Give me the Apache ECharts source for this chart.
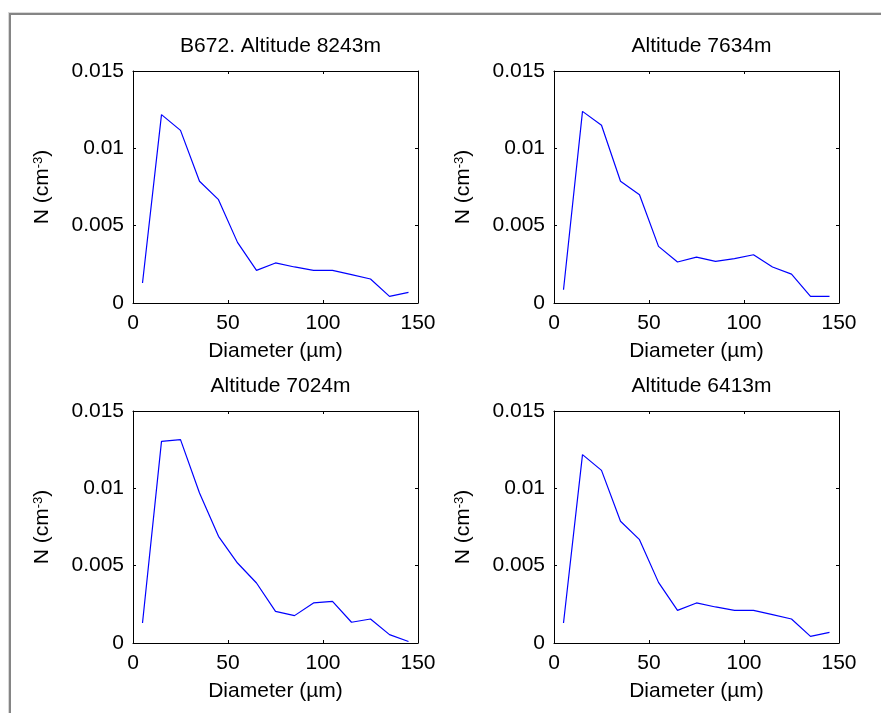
<!DOCTYPE html>
<html>
<head>
<meta charset="utf-8">
<script src="https://cdn.jsdelivr.net/npm/echarts@6/dist/echarts.min.js"></script>
<style>html,body{margin:0;padding:0;background:#fff}#c{width:881px;height:713px}</style>
</head>
<body>
<div id="c"></div>
<script>
// ---- data ----
const diameters = [5, 15, 25, 35, 45, 55, 65, 75, 85, 95, 105, 115, 125, 135, 145];
const titles = ['B672. Altitude 8243m', 'Altitude 7634m', 'Altitude 7024m', 'Altitude 6413m'];
const n8243 = [0.00129, 0.01218, 0.01116, 0.00787, 0.00668, 0.00392, 0.00211, 0.00259, 0.00233, 0.00211, 0.00211, 0.00183, 0.00155, 0.00043, 0.00069];
const n7634 = [0.00086, 0.01239, 0.01149, 0.00787, 0.00700, 0.00366, 0.00265, 0.00297, 0.00269, 0.00287, 0.00312, 0.00233, 0.00187, 0.00043, 0.00043];
const n7024 = [0.00129, 0.01304, 0.01315, 0.00970, 0.00690, 0.00517, 0.00388, 0.00205, 0.00177, 0.00259, 0.00269, 0.00134, 0.00155, 0.00054, 0.00010];
const n6413 = [0.00129, 0.01218, 0.01116, 0.00787, 0.00668, 0.00392, 0.00211, 0.00259, 0.00233, 0.00211, 0.00211, 0.00183, 0.00155, 0.00043, 0.00069];
const xTickLabels = ['0', '50', '100', '150'];
const yTickLabels = ['0', '0.005', '0.01', '0.015'];
const seriesData = [n8243, n7634, n7024, n6413];

// ---- layout ----
const FONT = 'Liberation Sans, Arial, sans-serif';
const FS = 21;
const grids = [
  {left: 133, top: 71, width: 285, height: 232},
  {left: 554, top: 71, width: 285, height: 232},
  {left: 133, top: 411, width: 285, height: 232},
  {left: 554, top: 411, width: 285, height: 232}
];
const chart = echarts.init(document.getElementById('c'), null, {renderer: 'canvas'});
const xAxes = [], yAxes = [], series = [], titleOpts = [];
grids.forEach((g, i) => {
  const common = {min: 0, max: 150, interval: 50, splitLine: {show: false}};
  xAxes.push(Object.assign({}, common, {
    type: 'value', gridIndex: i, position: 'bottom',
    axisLine: {show: true, onZero: false, lineStyle: {color: '#000', width: 1}},
    axisTick: {show: true, inside: true, length: 3, lineStyle: {color: '#000'}},
    axisLabel: {show: true, color: '#000', fontFamily: FONT, fontSize: FS, margin: 10,
      formatter: v => xTickLabels[Math.round(v / 50)]},
    name: 'Diameter (\u00b5m)', nameLocation: 'middle', nameGap: 38,
    nameTextStyle: {color: '#000', fontFamily: FONT, fontSize: FS}
  }));
  xAxes.push(Object.assign({}, common, {
    type: 'value', gridIndex: i, position: 'top',
    axisLine: {show: true, onZero: false, lineStyle: {color: '#000', width: 1}},
    axisTick: {show: true, inside: true, length: 3, lineStyle: {color: '#000'}},
    axisLabel: {show: false}
  }));
  const ycommon = {min: 0, max: 0.015, interval: 0.005, splitLine: {show: false}};
  yAxes.push(Object.assign({}, ycommon, {
    type: 'value', gridIndex: i, position: 'left',
    axisLine: {show: true, onZero: false, lineStyle: {color: '#000', width: 1}},
    axisTick: {show: true, inside: true, length: 3, lineStyle: {color: '#000'}},
    axisLabel: {show: true, color: '#000', fontFamily: FONT, fontSize: FS, margin: 9,
      formatter: v => yTickLabels[Math.round(v / 0.005)]},
    name: '{a|N (cm}{s|-3}{a|)}', nameLocation: 'middle', nameGap: 80,
    nameTextStyle: {color: '#000', fontFamily: FONT, fontSize: FS,
      rich: {a: {fontFamily: FONT, fontSize: FS, color: '#000'},
             s: {fontFamily: FONT, fontSize: 13, color: '#000', verticalAlign: 'top', padding: [0, 0, 8, 0]}}}
  }));
  yAxes.push(Object.assign({}, ycommon, {
    type: 'value', gridIndex: i, position: 'right',
    axisLine: {show: true, onZero: false, lineStyle: {color: '#000', width: 1}},
    axisTick: {show: true, inside: true, length: 3, lineStyle: {color: '#000'}},
    axisLabel: {show: false}
  }));
  series.push({
    type: 'line', xAxisIndex: i * 2, yAxisIndex: i * 2,
    data: diameters.map((d, k) => [d, seriesData[i][k]]),
    showSymbol: false, symbol: 'none', animation: false,
    lineStyle: {color: '#0000ff', width: 1.2}
  });
  titleOpts.push({
    text: titles[i], left: g.left + g.width / 2, top: g.top - 40, textAlign: 'center',
    textStyle: {color: '#000', fontFamily: FONT, fontSize: FS, fontWeight: 'normal'}
  });
});

chart.setOption({
  backgroundColor: '#fff',
  animation: false,
  title: titleOpts,
  grid: grids.map(g => Object.assign({}, g, {containLabel: false})),
  xAxis: xAxes,
  yAxis: yAxes,
  series: series,
  graphic: [
    {type: 'rect', shape: {x: 9, y: 13, width: 880, height: 2}, style: {fill: '#858585'}, silent: true},
    {type: 'rect', shape: {x: 9, y: 13, width: 2, height: 710}, style: {fill: '#858585'}, silent: true},
    {type: 'rect', shape: {x: 8, y: 12, width: 880, height: 1}, style: {fill: '#d8d8d8'}, silent: true},
    {type: 'rect', shape: {x: 8, y: 12, width: 1, height: 710}, style: {fill: '#d8d8d8'}, silent: true}
  ]
});
</script>
</body>
</html>
